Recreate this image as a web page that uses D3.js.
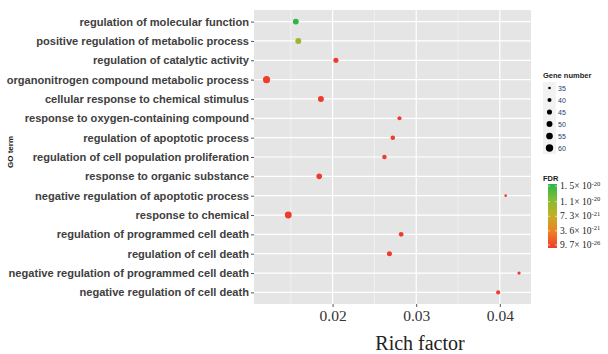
<!DOCTYPE html>
<html><head><meta charset="utf-8">
<script src="https://cdn.jsdelivr.net/npm/d3@7"></script>
<style>body{margin:0;background:#fff}svg{display:block}</style>
</head><body>
<script>
const terms = [
 "regulation of molecular function",
 "positive regulation of metabolic process",
 "regulation of catalytic activity",
 "organonitrogen compound metabolic process",
 "cellular response to chemical stimulus",
 "response to oxygen-containing compound",
 "regulation of apoptotic process",
 "regulation of cell population proliferation",
 "response to organic substance",
 "negative regulation of apoptotic process",
 "response to chemical",
 "regulation of programmed cell death",
 "regulation of cell death",
 "negative regulation of programmed cell death",
 "negative regulation of cell death"
];
const richFactor = [0.0156,0.0159,0.0204,0.0121,0.0186,0.0280,0.0272,0.0262,0.0184,0.0407,0.0147,0.0282,0.0268,0.0423,0.0398];
const geneNumber = [50,50,45,58,50,40,42,42,48,35,56,43,45,37,40];
const fdr = [1.5e-20,1.0e-20,2e-23,1e-25,1e-24,1e-24,1e-24,1e-24,1e-25,1e-24,9.7e-26,1e-24,1e-24,1e-24,1e-24];
const xTicks = [0.02,0.03,0.04];
const xMinor = [0.015,0.025,0.035];
const sizeBreaks = [35,40,45,50,55,60];
const fdrBreaks = [1.5e-20,1.1e-20,7.3e-21,3.6e-21,9.7e-26];
const fdrLabels = [["1. 5","-20"],["1. 1","-20"],["7. 3","-21"],["3. 6","-21"],["9. 7","-26"]];

const W=608,H=354;
const svg=d3.select("body").append("svg").attr("width",W).attr("height",H);
const P={l:254,r:531,t:10,b:304};

const x=d3.scaleLinear().domain([0.0106,0.04373]).range([P.l,P.r]);
const y=d3.scalePoint().domain(terms).range([P.t,P.b]).padding(0.6);
const area=d3.scaleLinear().domain([33,62]).range([0.8,14.5]);
const rad=v=>Math.sqrt(area(v));
const fdrDom=[9.7e-26,1.5e-20];
const colT=d3.scaleLinear().domain([0,0.25,0.5,0.75,1]).range(["#EE3B2B","#EF7F22","#C4AE25","#86BC33","#2CB64B"]).interpolate(d3.interpolateRgb);
const col=v=>colT((v-fdrDom[0])/(fdrDom[1]-fdrDom[0]));

svg.append("rect").attr("x",P.l).attr("y",P.t).attr("width",P.r-P.l).attr("height",P.b-P.t).attr("fill","#E5E5E5");
const g=svg.append("g");
g.selectAll(".mn").data(xMinor).join("line").attr("x1",d=>x(d)).attr("x2",d=>x(d)).attr("y1",P.t).attr("y2",P.b).attr("stroke","#F2F2F2").attr("stroke-width",0.8);
g.selectAll(".mj").data(xTicks).join("line").attr("x1",d=>x(d)).attr("x2",d=>x(d)).attr("y1",P.t).attr("y2",P.b).attr("stroke","#fff").attr("stroke-width",1.2);
g.selectAll(".hy").data(terms).join("line").attr("x1",P.l).attr("x2",P.r).attr("y1",d=>y(d)).attr("y2",d=>y(d)).attr("stroke","#fff").attr("stroke-width",1.2);

// axes
const ya=svg.append("g").attr("transform",`translate(${P.l},0)`).call(d3.axisLeft(y).tickSize(3).tickPadding(2));
ya.select(".domain").remove();
ya.selectAll("line").attr("stroke","#555");
ya.selectAll("text").style("font-family","'Liberation Sans', Arial, sans-serif").style("font-weight","bold").style("font-size","11.1px").attr("fill","#404040");
const xa=svg.append("g").attr("transform",`translate(0,${P.b})`).call(d3.axisBottom(x).tickValues(xTicks).tickFormat(d3.format(".2f")).tickSize(3).tickPadding(3));
xa.select(".domain").remove();
xa.selectAll("line").attr("stroke","#555");
xa.selectAll("text").style("font-family","'Liberation Serif', 'Times New Roman', serif").style("font-size","15.5px").attr("fill","#333");

// points
svg.append("g").selectAll("circle").data(terms).join("circle")
 .attr("cx",(d,i)=>x(richFactor[i])).attr("cy",d=>y(d)).attr("r",(d,i)=>rad(geneNumber[i])).attr("fill",(d,i)=>col(fdr[i]));

svg.append("text").attr("x",420).attr("y",350).attr("text-anchor","middle").style("font-family","'Liberation Serif', 'Times New Roman', serif").style("font-size","20px").attr("fill","#222").text("Rich factor");
svg.append("text").attr("transform","translate(13,152) rotate(-90)").attr("text-anchor","middle").style("font-family","'Liberation Sans', Arial, sans-serif").style("font-weight","bold").style("font-size","8px").attr("fill","#222").text("GO term");

// size legend
const lg=svg.append("g");
lg.append("text").attr("x",543).attr("y",78).style("font-family","'Liberation Sans', Arial, sans-serif").style("font-weight","bold").style("font-size","7.5px").attr("fill","#222").text("Gene number");
const ky=d3.scalePoint().domain(sizeBreaks).range([88,148]);
lg.selectAll(".kb").data(sizeBreaks).join("rect").attr("x",543).attr("y",d=>ky(d)-6).attr("width",13).attr("height",12).attr("fill","#F2F2F2");
lg.selectAll(".kc").data(sizeBreaks).join("circle").attr("cx",549.5).attr("cy",d=>ky(d)).attr("r",d=>rad(d)).attr("fill","#000");
lg.selectAll(".kt").data(sizeBreaks).join("text").attr("x",558).attr("y",d=>ky(d)+2.5).style("font-family","'Liberation Sans', Arial, sans-serif").style("font-size","7px").attr("fill","#1F3A6B").text(d=>d);

// FDR colorbar
lg.append("text").attr("x",543).attr("y",181).style("font-family","'Liberation Sans', Arial, sans-serif").style("font-weight","bold").style("font-size","7.5px").attr("fill","#222").text("FDR");
const defs=svg.append("defs");
const grad=defs.append("linearGradient").attr("id","fg").attr("x1",0).attr("x2",0).attr("y1",1).attr("y2",0);
d3.range(0,1.0001,0.05).forEach(t=>grad.append("stop").attr("offset",t).attr("stop-color",colT(t)));
const cy=d3.scaleLinear().domain(fdrDom).range([245,186]);
lg.append("rect").attr("x",548).attr("y",184).attr("width",9).attr("height",64).attr("fill","url(#fg)");
lg.selectAll(".ct").data(fdrBreaks).join("line").attr("x1",548).attr("x2",550).attr("y1",d=>cy(d)).attr("y2",d=>cy(d)).attr("stroke","#fff").attr("stroke-width",0.6);
lg.selectAll(".ct2").data(fdrBreaks).join("line").attr("x1",555).attr("x2",557).attr("y1",d=>cy(d)).attr("y2",d=>cy(d)).attr("stroke","#fff").attr("stroke-width",0.6);
const ft=lg.selectAll(".fl").data(fdrBreaks).join("text").attr("x",560).attr("y",d=>cy(d)+3).style("font-family","'Liberation Serif', 'Times New Roman', serif").style("font-size","9.5px").attr("fill","#222");
ft.append("tspan").text((d,i)=>fdrLabels[i][0]+"× 10");
ft.append("tspan").attr("dy",-3.5).style("font-size","6.5px").text((d,i)=>fdrLabels[i][1]);
</script>
</body></html>
